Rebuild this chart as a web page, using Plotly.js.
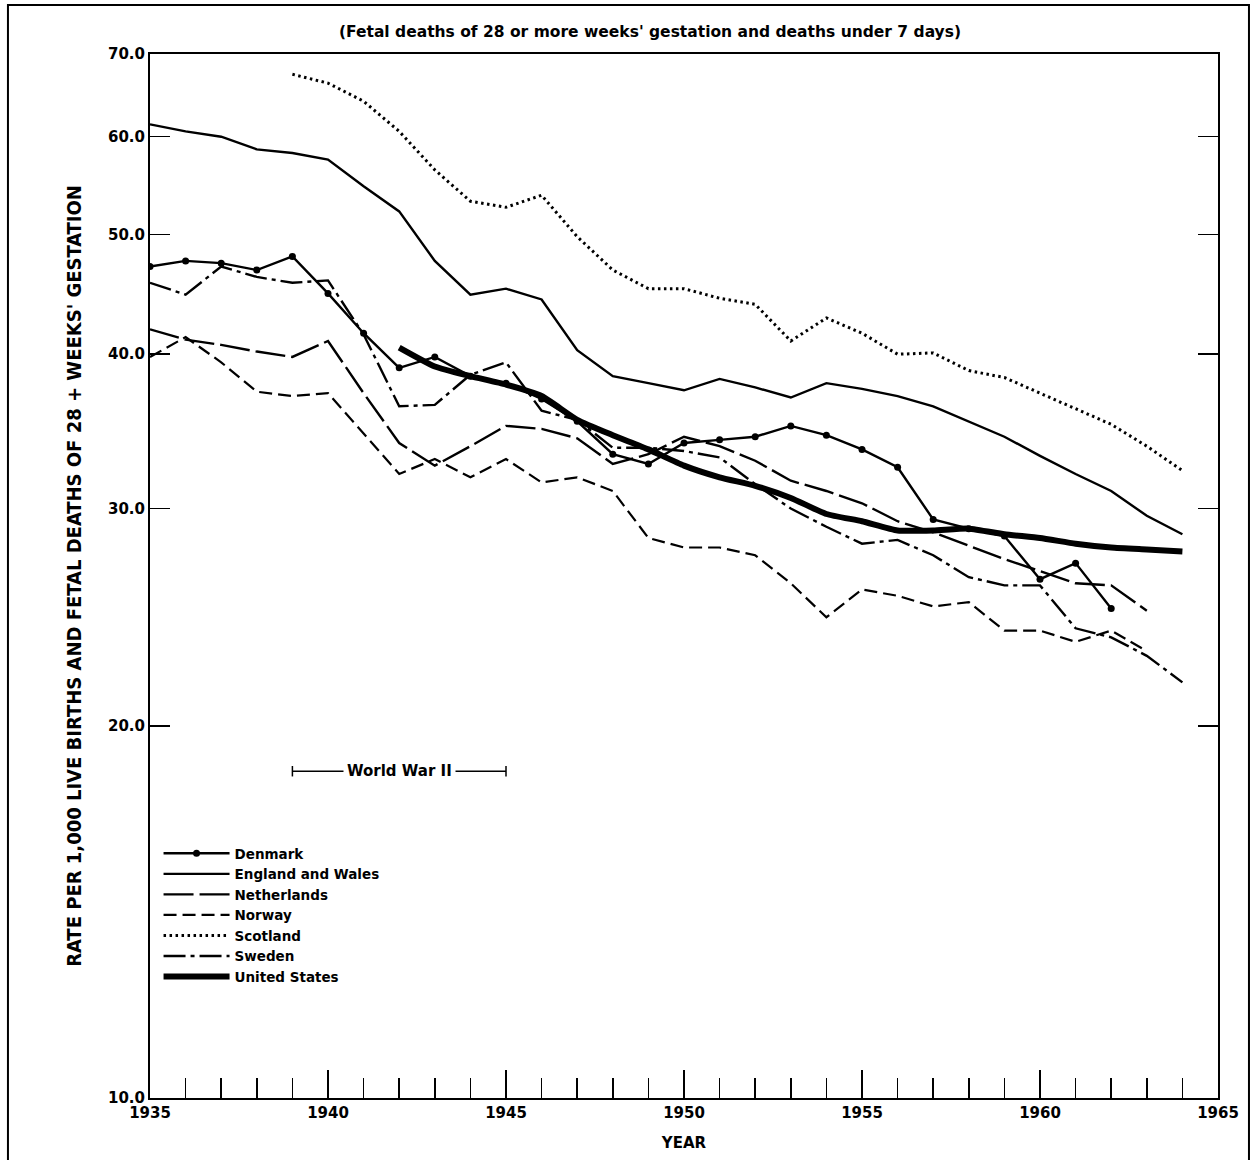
<!DOCTYPE html>
<html>
<head>
<meta charset="utf-8">
<script src="https://cdn.plot.ly/plotly-3.0.1.min.js"></script>
<style>
  html, body { margin: 0; padding: 0; background: #fff; }
  #chart { width: 1258px; height: 1160px; }
</style>
</head>
<body>
<div id="chart"></div>
<script>
// ---- Data ----
const yearsAll = [1935,1936,1937,1938,1939,1940,1941,1942,1943,1944,1945,1946,1947,1948,1949,1950,1951,1952,1953,1954,1955,1956,1957,1958,1959,1960,1961,1962,1963,1964];

const denmarkYears = [1935,1936,1937,1938,1939,1940,1941,1942,1943,1944,1945,1946,1947,1948,1949,1950,1951,1952,1953,1954,1955,1956,1957,1958,1959,1960,1961,1962];
const denmark = [47.1,47.6,47.4,46.8,48.0,44.8,41.6,39.0,39.8,38.4,37.9,36.8,35.3,33.2,32.6,33.9,34.1,34.3,35.0,34.4,33.5,32.4,29.4,28.9,28.5,26.3,27.1,24.9];

const englandWales = [61.4,60.6,60.0,58.6,58.2,57.5,54.7,52.2,47.6,44.7,45.2,44.3,40.3,38.4,37.9,37.4,38.2,37.6,36.9,37.9,37.5,37.0,36.3,35.3,34.3,33.1,32.0,31.0,29.6,28.6];

const netherlandsYears = [1935,1936,1937,1938,1939,1940,1941,1942,1943,1944,1945,1946,1947,1948,1949,1950,1951,1952,1953,1954,1955,1956,1957,1958,1959,1960,1961,1962,1963];
const netherlands = [41.9,41.1,40.7,40.2,39.8,41.0,37.2,33.9,32.5,33.7,35.0,34.8,34.2,32.6,33.2,34.3,33.7,32.8,31.6,31.0,30.3,29.3,28.7,28.0,27.3,26.7,26.1,26.0,24.8];

const norwayYears = [1935,1936,1937,1938,1939,1940,1941,1942,1943,1944,1945,1946,1947,1948,1949,1950,1951,1952,1953,1954,1955,1956,1957,1958,1959,1960,1961,1962,1963];
const norway = [39.8,41.3,39.4,37.3,37.0,37.2,34.5,32.0,32.9,31.8,32.9,31.5,31.8,31.0,28.4,27.9,27.9,27.5,26.1,24.5,25.8,25.5,25.0,25.2,23.9,23.9,23.4,23.9,23.0];

const scotlandYears = [1939,1940,1941,1942,1943,1944,1945,1946,1947,1948,1949,1950,1951,1952,1953,1954,1955,1956,1957,1958,1959,1960,1961,1962,1963,1964];
const scotland = [67.4,66.3,64.1,60.6,56.4,53.2,52.6,53.8,49.8,46.8,45.2,45.2,44.4,43.9,41.0,42.8,41.6,40.0,40.1,38.8,38.3,37.2,36.1,35.1,33.7,32.2];

const sweden = [45.7,44.7,47.1,46.2,45.7,45.9,41.5,36.3,36.4,38.5,39.4,36.0,35.4,33.6,33.6,33.4,33.0,31.4,30.0,29.0,28.1,28.3,27.5,26.4,26.0,26.0,24.0,23.6,22.8,21.7];

const usYears = [1942,1943,1944,1945,1946,1947,1948,1949,1950,1951,1952,1953,1954,1955,1956,1957,1958,1959,1960,1961,1962,1963,1964];
const unitedStates = [40.5,39.1,38.4,37.8,37.0,35.4,34.4,33.5,32.5,31.8,31.3,30.6,29.7,29.3,28.8,28.8,28.9,28.6,28.4,28.1,27.9,27.8,27.7];

const yTickVals = [10,20,30,40,50,60,70];
const yTickText = ['10.0','20.0','30.0','40.0','50.0','60.0','70.0'];
const xTickVals = [1935,1940,1945,1950,1955,1960,1965];
const warStart = 1939, warEnd = 1945;

// ---- Styling ----
const FONT = 'DejaVu Sans, Liberation Sans, sans-serif';
const BLACK = '#000';

function tr(name, x, y, dash, width, extra) {
  return Object.assign({
    type: 'scatter', mode: 'lines', name: name, x: x, y: y,
    line: { color: BLACK, width: width, dash: dash },
    hoverinfo: 'skip'
  }, extra || {});
}

const traces = [
  tr('Denmark', denmarkYears, denmark, 'solid', 2.4, { mode: 'lines+markers', marker: { symbol: 'circle', size: 7, color: BLACK } }),
  tr('England and Wales', yearsAll, englandWales, 'solid', 2.4),
  tr('Netherlands', netherlandsYears, netherlands, '30px,6px', 2.4),
  tr('Norway', norwayYears, norway, '13px,6px', 2.2),
  tr('Scotland', scotlandYears, scotland, '2.5px,3.5px', 3),
  tr('Sweden', yearsAll, sweden, '22px,5px,4px,5px', 2.4),
  tr('United States', usYears, unitedStates, 'solid', 6, { line: { color: BLACK, width: 6, shape: 'spline', smoothing: 0.5 } })
];

const layout = {
  width: 1258, height: 1160,
  margin: { l: 150, r: 40, t: 54, b: 62 },
  paper_bgcolor: '#fff', plot_bgcolor: '#fff',
  showlegend: true,
  title: {
    text: "(Fetal deaths of 28 or more weeks' gestation and deaths under 7 days)",
    font: { family: FONT, size: 15.5, color: BLACK, weight: 'bold' },
    x: 650 / 1258, xref: 'container', xanchor: 'center',
    y: 1 - 32 / 1160, yref: 'container', yanchor: 'middle'
  },
  xaxis: {
    range: [1935, 1965], type: 'linear',
    tickvals: xTickVals, ticktext: xTickVals.map(String),
    ticks: 'inside', ticklen: 28, tickwidth: 1.5, tickcolor: BLACK,
    minor: { dtick: 1, ticks: 'inside', ticklen: 20, tickwidth: 1.5, tickcolor: BLACK, showgrid: false },
    showline: true, linecolor: BLACK, linewidth: 2, mirror: true,
    showgrid: false, zeroline: false,
    tickfont: { family: FONT, size: 15, color: BLACK, weight: 'bold' },
    title: { text: 'YEAR', font: { family: FONT, size: 15, color: BLACK, weight: 'bold' }, standoff: 16 }
  },
  yaxis: {
    type: 'log', range: [1, Math.log10(70)],
    tickvals: yTickVals, ticktext: yTickText,
    ticks: 'inside', ticklen: 20, tickwidth: 1.5, tickcolor: BLACK,
    showline: true, linecolor: BLACK, linewidth: 2, mirror: 'ticks',
    showgrid: false, zeroline: false,
    tickfont: { family: FONT, size: 15, color: BLACK, weight: 'bold' },
    title: {
      text: "RATE PER 1,000 LIVE BIRTHS AND FETAL DEATHS OF 28 + WEEKS' GESTATION",
      font: { family: 'Liberation Sans Narrow, DejaVu Sans Condensed, sans-serif', size: 20, color: BLACK, weight: 'bold' },
      standoff: 21
    }
  },
  legend: {
    x: 0.008, y: 0.249, xanchor: 'left', yanchor: 'top',
    bgcolor: 'rgba(0,0,0,0)', borderwidth: 0,
    font: { family: FONT, size: 13.5, color: BLACK, weight: 'bold' },
    itemwidth: 66, tracegroupgap: 0, traceorder: 'normal'
  },
  shapes: [
    // World War II span bracket
    { type: 'line', xref: 'x', yref: 'paper', x0: warStart, x1: warEnd, y0: 0.313, y1: 0.313, line: { color: BLACK, width: 1.5 } },
    { type: 'line', xref: 'x', yref: 'paper', x0: warStart, x1: warStart, y0: 0.308, y1: 0.318, line: { color: BLACK, width: 1.5 } },
    { type: 'line', xref: 'x', yref: 'paper', x0: warEnd, x1: warEnd, y0: 0.308, y1: 0.318, line: { color: BLACK, width: 1.5 } },
    // outer frame of the figure
    { type: 'rect', xref: 'paper', yref: 'paper', x0: -0.133, x1: 1.029, y0: -0.09, y1: 1.047, line: { color: BLACK, width: 2 }, fillcolor: 'rgba(0,0,0,0)', layer: 'below' }
  ],
  annotations: [
    { xref: 'x', yref: 'paper', x: (warStart + warEnd) / 2, y: 0.313, text: 'World War II', showarrow: false,
      font: { family: FONT, size: 15, color: BLACK, weight: 'bold' }, bgcolor: '#fff', borderpad: 3, xanchor: 'center', yanchor: 'middle' }
  ]
};

Plotly.newPlot('chart', traces, layout, { staticPlot: true, displayModeBar: false });
</script>
</body>
</html>
